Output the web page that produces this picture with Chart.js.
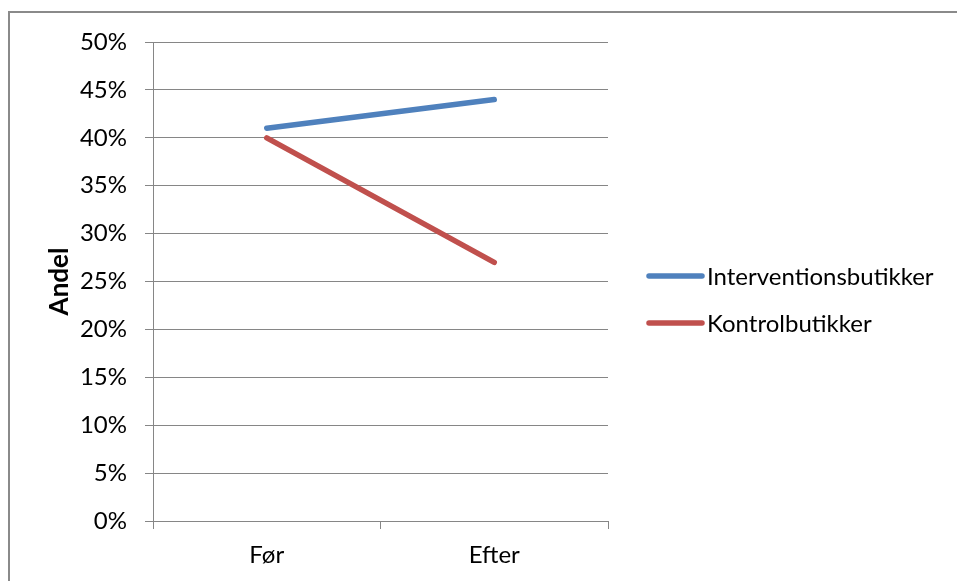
<!DOCTYPE html>
<html>
<head>
<meta charset="utf-8">
<script src="https://cdn.jsdelivr.net/npm/chart.js@4"></script>
<style>
  html, body { margin: 0; padding: 0; background: #fff; overflow: hidden; }
  #wrap { position: relative; width: 957px; height: 581px; }
  #frame { position: absolute; left: 8px; top: 11px; width: 1000px; height: 700px;
           border-left: 2px solid #8a8a8a; border-top: 2px solid #8a8a8a; }
  canvas { position: absolute; left: 0; top: 0; }
</style>
</head>
<body>
<div id="wrap">
  <div id="frame"></div>
  <canvas id="chart" width="957" height="581"></canvas>
</div>
<script>
// data
const categories = ['Før', 'Efter'];
const interventionValues = [0.41, 0.44];
const kontrolValues = [0.40, 0.27];
const seriesNames = ['Interventionsbutikker', 'Kontrolbutikker'];
const seriesColors = ['#4f81bd', '#c0504d'];
const yTickMax = 0.5;
const yTickStep = 0.05;

const FONT = 'Lato, "Open Sans", sans-serif';
const GRID = '#868686';
const LINE_W = 5.5;

// legend drawn to the right of the plot, excel style
const sideLegend = {
    id: 'sideLegend',
    afterDraw(chart) {
        const ctx = chart.ctx;
        const area = chart.chartArea;
        const x0 = area.right + 41;
        const ys = [276, 323];
        ctx.save();
        chart.data.datasets.forEach((ds, i) => {
            const y = ys[i];
            ctx.strokeStyle = ds.borderColor;
            ctx.lineWidth = LINE_W;
            ctx.lineCap = 'round';
            ctx.beginPath();
            ctx.moveTo(x0, y);
            ctx.lineTo(x0 + 53, y);
            ctx.stroke();
            ctx.fillStyle = '#000';
            ctx.font = '24px ' + FONT;
            ctx.textBaseline = 'middle';
            ctx.fillText(ds.label, x0 + 58, y + 1);
        });
        ctx.restore();
    }
};

new Chart(document.getElementById('chart'), {
    type: 'line',
    data: {
        labels: categories,
        datasets: [
            { label: seriesNames[0], data: interventionValues, borderColor: seriesColors[0] },
            { label: seriesNames[1], data: kontrolValues, borderColor: seriesColors[1] }
        ]
    },
    options: {
        responsive: false,
        animation: false,
        events: [],
        layout: { padding: { left: 40, top: 42, right: 349, bottom: 0 } },
        elements: {
            line: { borderWidth: LINE_W, borderCapStyle: 'round', tension: 0 },
            point: { radius: 0 }
        },
        plugins: { legend: { display: false }, tooltip: { enabled: false } },
        scales: {
            x: {
                offset: true,
                grid: { offset: true, drawOnChartArea: false, drawTicks: true, tickLength: 8, color: GRID, lineWidth: 1 },
                border: { display: true, color: GRID, width: 1 },
                ticks: { color: '#000', font: { family: FONT, size: 24 }, padding: 12 },
                afterFit: (s) => { s.height = 60; }
            },
            y: {
                min: 0,
                max: yTickMax,
                grid: { color: GRID, lineWidth: 1, tickLength: 8 },
                border: { display: true, color: GRID, width: 1 },
                ticks: {
                    stepSize: yTickStep,
                    color: '#000',
                    font: { family: FONT, size: 24 },
                    padding: 18,
                    callback: (v) => Math.round(v * 100) + '%'
                },
                title: {
                    display: true,
                    text: 'Andel',
                    color: '#000',
                    font: { family: FONT, size: 26, weight: 'bold' },
                    padding: { top: 4, bottom: 0 }
                },
                afterFit: (s) => { s.width = 113; }
            }
        }
    },
    plugins: [sideLegend]
});
</script>
</body>
</html>
